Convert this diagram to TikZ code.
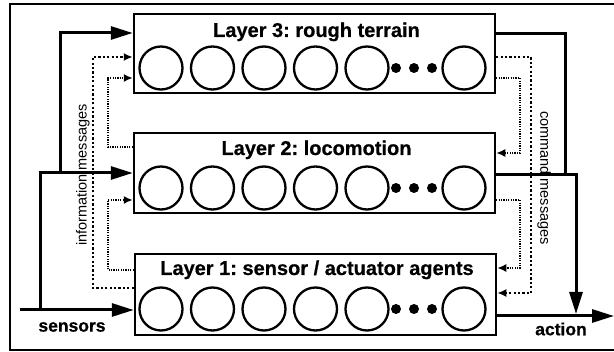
\documentclass[tikz,border=0pt]{standalone}
\usepackage{fontspec}
\setmainfont{Liberation Sans}
\newfontfamily\ttlfont[FakeBold=0.6]{Liberation Sans Bold}
\newfontfamily\lblfont[FakeBold=0.6]{Liberation Sans Bold}
\usetikzlibrary{arrows.meta}
\frenchspacing
\begin{document}
\begin{tikzpicture}[x=1pt,y=-1pt,
 layer/.style={draw, line width=2.5pt, minimum width=361pt, inner sep=0pt},
 agent/.style={draw, circle, line width=2.3pt, minimum size=43pt, inner sep=0pt},
 bigdot/.style={fill, circle, minimum size=10pt, inner sep=0pt},
 ttl/.style={font=\ttlfont\fontsize{20}{20}\selectfont, anchor=base, inner sep=0pt},
 flow/.style={line width=3pt, -{Triangle[length=22pt,width=13pt]}},
 wire/.style={line width=3pt},
 info/.style={line width=2.2pt, dash pattern=on 2.2pt off 2.2pt, -{Latex[length=9pt,width=8pt]}},
 infoin/.style={line width=1.6pt, dash pattern=on 1.2pt off 1.2pt, -{Latex[length=9pt,width=8pt]}},
 lbl/.style={font=\lblfont\fontsize{17.5}{17.5}\selectfont},
 side/.style={font=\fontsize{14.5}{14.5}\selectfont}
]
\useasboundingbox (0,0) rectangle (614,352);
% frame (open on the right)
\draw[line width=2.2pt] (614,4) -- (10,4) -- (10,350) -- (614,350);

% layers
\node[layer, minimum height=79pt] (L3) at (314.5,53.5) {};
\node[layer, minimum height=80pt] (L2) at (314.5,173) {};
\node[layer, minimum height=81pt] (L1) at (315.5,294.5) {};

\node[ttl] (T3) at (316.5,37) {Layer 3: rough terrain};
\node[ttl] (T2) at (316.5,155) {Layer 2: locomotion};
\node[ttl] (T1) at (317,275) {Layer 1: sensor / actuator agents};

% agents
\foreach \L/\y in {3/68,2/188,1/309}{
  \foreach \i/\x in {1/161,2/212.5,3/264,4/315.5,5/367,6/464}{
    \node[agent] (a\L\i) at (\x,\y) {};
  }
  \foreach \j/\x in {1/396,2/414,3/432}{
    \node[bigdot] (d\L\j) at (\x,\y) {};
  }
}

% sensor inputs
\coordinate (sen) at (20,310);
\coordinate (b1) at (40,310);
\coordinate (b2) at (60,173);
\draw[flow] (sen) -- (L1.west |- sen);
\draw[flow] (b1) |- (L2.west |- 0,173);
\draw[flow] (b2) |- (L3.west |- 0,33);

% action outputs
\coordinate (act) at (614,316);
\coordinate (j3) at (565,175);
\coordinate (j2) at (576,314);
\draw[wire] (L3.east |- 0,34) -| (j3);
\draw[flow] (L2.east |- 0,175) -| (j2);
\draw[flow] (L1.east |- act) -- (act);

% information messages (upward)
\draw[info] (L1.west |- 0,288) -| (93,57) -- (L3.west |- 0,57);
\draw[infoin] (L2.west |- 0,147) -| (108,78) -- (L3.west |- 0,78);
\draw[infoin] (L1.west |- 0,270) -| (108,200) -- (L2.west |- 0,200);

% command messages (downward)
\draw[info] (L3.east |- 0,57) -| (531,293) -- (L1.east |- 0,293);
\draw[infoin] (L3.east |- 0,78) -| (520,153) -- (L2.east |- 0,153);
\draw[infoin] (L2.east |- 0,200) -| (520,268) -- (L1.east |- 0,268);

% labels
\node[side, rotate=90] (im) at (83,175) {information messages};
\node[side, rotate=-90] (cm) at (544,178) {command messages};
\node[lbl] (ls) at (72,327) {sensors};
\node[lbl] (la) at (561,329) {action};
\end{tikzpicture}
\end{document}
